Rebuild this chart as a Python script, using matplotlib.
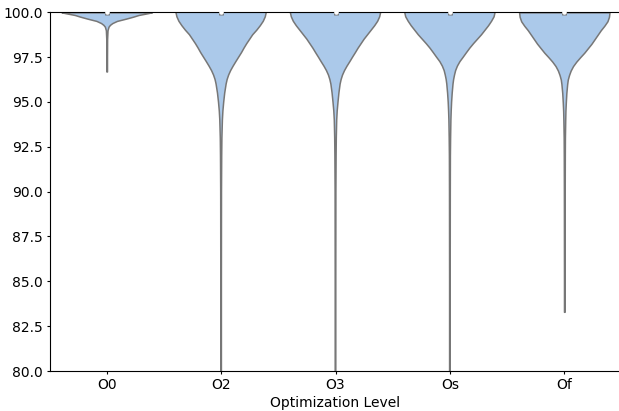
"""
Violin plot of score per optimization level (values read off the reference).
"""

import matplotlib
matplotlib.use("Agg")
import matplotlib.pyplot as plt
import numpy as np


LEVELS = ["O0", "O2", "O3", "Os", "Of"]

# density profile (relative half-width) at each score
O0_Y = [100.0, 99.95, 99.85, 99.76, 99.65, 99.52, 99.4, 99.3, 99.2, 99.0, 98.5, 97.5, 96.7]
O0_W = [44, 40, 31, 26, 19, 10, 5.5, 3.2, 1.8, 0.8, 0.4, 0.3, 0.3]

GRID_Y = [100.0, 99.75, 99.5, 99.25, 99.0, 98.75, 98.5, 98.25, 98.0, 97.75, 97.5,
          97.25, 97.0, 96.75, 96.5, 96.25, 96.0, 95.5, 95.0, 94.5, 94.0, 93.0,
          92.0, 90.0, 85.0]
O2_W = [45, 44, 42, 39, 35.5, 31.5, 28.5, 25.5, 22.8, 20.3, 17.5, 14.7, 12, 9.5,
        7.5, 6, 5, 3.6, 2.6, 1.8, 1.3, 0.8, 0.6, 0.4, 0.3]
O3_W = [45, 44, 42, 39, 35.5, 32, 28.5, 25.5, 22.5, 19.8, 17, 14.3, 11.5, 9, 7,
        5.6, 4.6, 3.4, 2.5, 1.7, 1.2, 0.8, 0.6, 0.4, 0.3]
OS_W = [45, 44, 41.5, 38.5, 35, 31.5, 27.5, 23.5, 19.8, 16.5, 13.3, 10, 7.5, 5.7,
        4.6, 3.7, 3.1, 2.3, 1.7, 1.3, 1.0, 0.7, 0.5, 0.4, 0.3]
OF_W = [44, 43.5, 42, 39, 35.5, 32.5, 29.5, 26.5, 23, 19.5, 15.5, 11.7, 8.5, 6.2,
        4.6, 3.4, 2.8, 2.0, 1.5, 1.1, 0.9, 0.6, 0.5, 0.4, 0.3]

MINIMA = [96.7, 70.0, 70.0, 70.0, 83.3]
MEDIANS = [100.0, 100.0, 100.0, 100.0, 100.0]
Q1 = [99.85, 99.85, 99.85, 99.85, 99.85]

FILL = "#abc9ea"
EDGE = "#777777"


def _stats():
    profiles = [(O0_Y, O0_W)] + [(GRID_Y, w) for w in (O2_W, O3_W, OS_W, OF_W)]
    out = []
    for (ys, ws), lo, med in zip(profiles, MINIMA, MEDIANS):
        ys = list(ys)
        ws = list(ws)
        if ys[-1] > lo:
            ys.append(lo)
            ws.append(ws[-1])
        out.append({"coords": np.array(ys), "vals": np.array(ws, dtype=float),
                    "mean": med, "median": med, "min": lo, "max": 100.0})
    return out


plt.rcParams["xtick.major.size"] = 2.5
plt.rcParams["ytick.major.size"] = 2.5
plt.rcParams["xtick.major.pad"] = 2.5
plt.rcParams["ytick.major.pad"] = 2.5

fig = plt.figure(figsize=(6.19, 4.11), dpi=100)
ax = fig.add_axes([49.5 / 619, 40 / 411, 572 / 619, 358.7 / 411])

pos = np.arange(len(LEVELS))
parts = ax.violin(_stats(), positions=pos, widths=0.79,
                  showmeans=False, showextrema=False, showmedians=False)
for body in parts["bodies"]:
    body.set_facecolor(FILL)
    body.set_edgecolor(EDGE)
    body.set_linewidth(1.1)
    body.set_alpha(1)

# inner box
ax.vlines(pos, Q1, 100.0, color=EDGE, lw=3.5, zorder=3)
ax.scatter(pos, MEDIANS, s=5, color="white", zorder=4, clip_on=False)

ax.set_xlim(-0.5, len(LEVELS) - 0.5)
ax.set_ylim(80, 100)
ax.set_yticks(np.arange(80, 100.1, 2.5))
ax.set_xticks(pos)
ax.set_xticklabels(LEVELS)
ax.set_xlabel("Optimization Level", labelpad=3)
ax.spines["right"].set_visible(False)

plt.savefig("out.png", dpi=100)
plt.close(fig)
